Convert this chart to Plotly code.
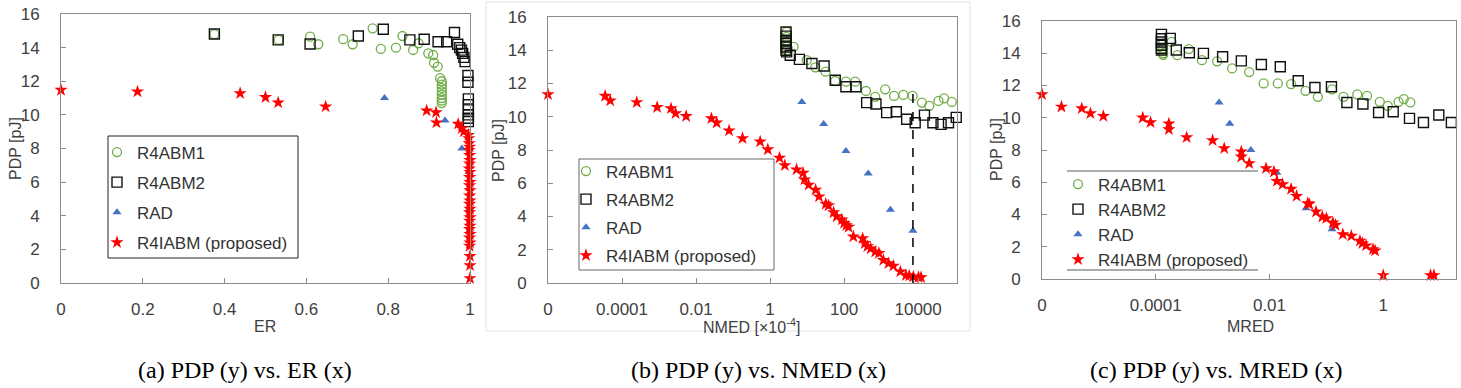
import plotly.graph_objects as go

# ---------------- data ----------------
# (a) PDP vs ER
a_r4abm1_er = [0.375, 0.532, 0.609, 0.629, 0.69, 0.713, 0.762, 0.782, 0.819, 0.835, 0.861, 0.874,
               0.898, 0.91, 0.912, 0.921, 0.927, 0.931, 0.931, 0.931, 0.931, 0.931, 0.931, 0.931, 0.931]
a_r4abm1_pdp = [14.8, 14.46, 14.65, 14.2, 14.5, 14.2, 15.15, 13.92, 14.0, 14.69, 13.86, 14.26,
                13.66, 13.56, 13.1, 12.87, 12.18, 12.0, 11.8, 11.6, 11.4, 11.2, 11.0, 10.85, 10.7]
a_r4abm2_er = [0.375, 0.531, 0.609, 0.727, 0.788, 0.853, 0.888, 0.922, 0.943, 0.962, 0.97,
               0.975, 0.979, 0.982, 0.985, 0.988, 0.995, 0.995, 0.996, 0.996, 0.996, 0.996, 0.996, 0.996]
a_r4abm2_pdp = [14.81, 14.46, 14.22, 14.69, 15.09, 14.46, 14.5, 14.35, 14.35, 14.9, 14.2,
                14.0, 13.85, 13.66, 13.42, 13.17, 12.34, 11.94, 10.95, 10.6, 10.3, 10.0, 9.8, 9.6]
a_rad_er = [0.791, 0.939, 0.98, 0.998, 0.999, 0.999]
a_rad_pdp = [11.0, 9.66, 8.0, 6.6, 4.4, 3.1]
a_r4iabm_er = [0.0, 0.187, 0.438, 0.5, 0.531, 0.647, 0.894, 0.917, 0.918, 0.971, 0.98, 0.985,
               0.996, 0.997, 0.998, 0.999, 0.998, 0.999, 1.0, 0.999, 0.998, 1.0, 0.999, 1.0,
               0.999, 1.0, 0.999, 1.0, 0.999, 1.0, 0.999, 1.0, 0.999, 1.0, 0.999, 1.0,
               0.999, 1.0, 0.999, 1.0, 1.0, 1.0]
a_r4iabm_pdp = [11.48, 11.38, 11.28, 11.05, 10.73, 10.49, 10.25, 10.15, 9.54, 9.46, 9.2, 9.0,
                8.8, 8.6, 8.3, 8.1, 7.9, 7.6, 7.3, 7.1, 6.8, 6.6, 6.3, 6.0, 5.8, 5.5, 5.2, 4.9,
                4.7, 4.4, 4.2, 3.9, 3.7, 3.4, 3.2, 2.9, 2.7, 2.4, 2.2, 1.6, 1.05, 0.28]

# (b) PDP vs NMED [x10^-4]
b_r4abm1_nmed = [2.8, 2.8, 2.8, 2.8, 2.8, 4.3, 9.8, 16.6, 31.6, 57.5, 112, 200, 389, 692, 1290,
                 2240, 3980, 7080, 12600, 20000, 35500, 50100, 81300]
b_r4abm1_pdp = [15.1, 14.8, 14.5, 14.2, 14.0, 14.2, 13.4, 12.97, 12.71, 12.15, 12.11, 12.11, 11.55,
                11.2, 11.65, 11.25, 11.31, 11.25, 10.85, 10.66, 10.95, 11.1, 10.89]
b_r4abm2_nmed = [2.7, 2.7, 2.7, 2.7, 2.7, 2.7, 2.8, 3.5, 6.2, 13.5, 28.8, 57.5, 112, 209, 407, 724,
                 1410, 2570, 4900, 8320, 14800, 25100, 41700, 66100, 107000]
b_r4abm2_pdp = [15.1, 14.85, 14.6, 14.4, 14.2, 14.0, 13.9, 13.7, 13.45, 13.2, 13.05, 12.2, 11.8,
                11.8, 10.85, 10.77, 10.25, 10.3, 9.85, 9.64, 10.1, 9.64, 9.54, 9.64, 9.96]
b_rad_nmed = [7.2, 28, 112, 447, 1780, 7240]
b_rad_pdp = [10.89, 9.56, 7.94, 6.58, 4.41, 3.15]
b_r4iabm_nmed = [0, 3.5e-5, 4.8e-5, 2.5e-4, 8.9e-4, 2.1e-3, 2.8e-3, 5.4e-3, 0.026, 0.036, 0.078,
                 0.18, 0.54, 0.87, 1.8, 2.5, 5.2, 7.8, 8.5, 11, 17, 21, 32, 38, 52, 63, 87, 100,
                 115, 132, 178, 316, 363, 427, 525, 692, 871, 1150, 1580, 2140, 3310, 4680,
                 5750, 7410, 10200, 12000]
b_r4iabm_pdp = [11.35, 11.25, 10.97, 10.87, 10.57, 10.5, 10.2, 10.03, 9.9, 9.64, 9.17, 8.7, 8.5,
                8.03, 7.53, 7.08, 6.82, 6.62, 6.22, 5.9, 5.6, 5.2, 4.75, 4.66, 4.24, 4.0, 3.81,
                3.6, 3.47, 3.37, 2.79, 2.68, 2.39, 2.2, 2.07, 1.87, 1.8, 1.38, 1.18, 1.03, 0.68,
                0.46, 0.44, 0.38, 0.34, 0.34]
b_marker_nmed = 7240     # dashed guide line position
b_marker_pdp_top = 11.4

# (c) PDP vs MRED
c_r4abm1_mred = [1.35e-4, 1.35e-4, 1.35e-4, 1.35e-4, 1.9e-4, 2.4e-4, 3.8e-4, 6.5e-4, 1.2e-3,
                 2.2e-3, 4.4e-3, 7.9e-3, 0.014, 0.024, 0.043, 0.071, 0.126, 0.2, 0.35, 0.52,
                 0.87, 1.2, 1.86, 2.3, 3.0]
c_r4abm1_pdp = [14.6, 14.3, 14.0, 13.9, 14.7, 13.88, 14.26, 13.57, 13.5, 13.06, 12.83, 12.13,
                12.13, 12.09, 11.67, 11.3, 11.76, 11.3, 11.45, 11.36, 10.99, 10.74, 10.99, 11.16,
                10.95]
c_r4abm2_mred = [1.26e-4, 1.26e-4, 1.26e-4, 1.26e-4, 1.26e-4, 1.26e-4, 1.8e-4, 2.3e-4, 3.9e-4,
                 6.9e-4, 1.5e-3, 3.2e-3, 7.2e-3, 0.0155, 0.032, 0.063, 0.123, 0.23, 0.44, 0.83,
                 1.5, 2.9, 5.1, 9.5, 15.8]
c_r4abm2_pdp = [15.17, 14.9, 14.7, 14.5, 14.3, 14.2, 14.92, 14.2, 14.03, 13.99, 13.78, 13.53,
                13.3, 13.16, 12.29, 11.88, 11.92, 10.95, 10.85, 10.33, 10.37, 9.96, 9.71, 10.17,
                9.71]
c_rad_mred = [1.3e-3, 2.0e-3, 4.7e-3, 0.0135, 0.044, 0.126]
c_rad_pdp = [10.95, 9.63, 8.0, 6.59, 4.38, 3.08]
c_r4iabm_mred = [0, 2.2e-6, 5.0e-6, 7.1e-6, 1.2e-5, 5.9e-5, 8.1e-5, 1.7e-4, 1.7e-4, 3.5e-4,
                 1.0e-3, 1.6e-3, 3.2e-3, 3.2e-3, 4.4e-3, 8.7e-3, 0.012, 0.0135, 0.017, 0.024,
                 0.030, 0.047, 0.050, 0.066, 0.085, 0.10, 0.13, 0.145, 0.195, 0.275, 0.39, 0.43,
                 0.50, 0.66, 0.72, 1.0, 6.8, 7.8]
c_r4iabm_pdp = [11.45, 10.68, 10.58, 10.27, 10.1, 10.0, 9.71, 9.63, 9.28, 8.78, 8.6, 8.1, 7.9,
                7.58, 7.17, 6.86, 6.65, 6.07, 5.87, 5.58, 5.14, 4.69, 4.65, 4.17, 3.86, 3.76,
                3.49, 3.35, 2.77, 2.67, 2.36, 2.21, 2.07, 1.84, 1.76, 0.23, 0.23, 0.23]

series_names = ["R4ABM1", "R4ABM2", "RAD", "R4IABM (proposed)"]
b_tickvals = [1e-6, 1e-4, 1e-2, 1, 100, 10000]
b_ticktext = ["0", "0.0001", "0.01", "1", "100", "10000"]
c_tickvals = [1e-6, 1e-4, 1e-2, 1]
c_ticktext = ["0", "0.0001", "0.01", "1"]
ZERO_POS = 1e-6  # where the value 0 sits on the log axes

# ---------------- styling ----------------
W, H = 1461, 388
def px(x):
    return x / W
def py(y):
    return 1 - y / H

marker_styles = {
    "R4ABM1": dict(symbol="circle-open", color="#70AD47", size=9, line=dict(width=1.3, color="#70AD47")),
    "R4ABM2": dict(symbol="square-open", color="#111111", size=10, line=dict(width=1.4, color="#111111")),
    "RAD": dict(symbol="triangle-up", color="#4472C4", size=8, line=dict(width=0)),
    "R4IABM (proposed)": dict(symbol="star", color="#FF0000", size=10, line=dict(width=0)),
}

def on_log(vals):
    return [v if v > 0 else ZERO_POS for v in vals]

fig = go.Figure()

panels = [
    ("x", "y", "legend", False,
     [(a_r4abm1_er, a_r4abm1_pdp), (a_r4abm2_er, a_r4abm2_pdp), (a_rad_er, a_rad_pdp), (a_r4iabm_er, a_r4iabm_pdp)]),
    ("x2", "y2", "legend2", True,
     [(b_r4abm1_nmed, b_r4abm1_pdp), (b_r4abm2_nmed, b_r4abm2_pdp), (b_rad_nmed, b_rad_pdp), (b_r4iabm_nmed, b_r4iabm_pdp)]),
    ("x3", "y3", "legend3", True,
     [(c_r4abm1_mred, c_r4abm1_pdp), (c_r4abm2_mred, c_r4abm2_pdp), (c_rad_mred, c_rad_pdp), (c_r4iabm_mred, c_r4iabm_pdp)]),
]

for pi, (xa, ya, lg, is_log, series) in enumerate(panels):
    for name, (xs, ys) in zip(series_names, series):
        fig.add_trace(go.Scatter(
            x=on_log(xs) if is_log else xs, y=ys, mode="markers", name=name,
            marker=marker_styles[name], xaxis=xa, yaxis=ya, legend=lg,
            legendgroup=f"p{pi}_{name}", cliponaxis=False, showlegend=True))

TICKFONT = dict(family="Liberation Sans, Arial, sans-serif", size=17, color="#404040")
AXCOL = "#8c8c8c"
common_x = dict(showline=True, linecolor=AXCOL, linewidth=1, mirror=True, showgrid=False,
                zeroline=False, ticks="inside", ticklen=5, tickcolor=AXCOL, tickfont=TICKFONT,
                ticklabelstandoff=11, automargin=False)
common_y = dict(showline=True, linecolor=AXCOL, linewidth=1, mirror=True, showgrid=False,
                zeroline=False, ticks="inside", ticklen=5, tickcolor=AXCOL, tickfont=TICKFONT,
                range=[0, 16], dtick=2, tick0=0, ticklabelstandoff=17, automargin=False)

leg_font = dict(family="Liberation Sans, Arial, sans-serif", size=17, color="#333333")
leg_common = dict(xanchor="left", yanchor="top", borderwidth=0, bgcolor="rgba(0,0,0,0)",
                  font=leg_font, traceorder="grouped")

fig.update_layout(
    template="none",
    width=W, height=H, margin=dict(l=0, r=0, t=0, b=0, autoexpand=False),
    paper_bgcolor="white", plot_bgcolor="white",
    xaxis=dict(domain=[px(61), px(470)], anchor="y", range=[0, 1], dtick=0.2, tick0=0, **common_x),
    yaxis=dict(domain=[py(283), py(14)], anchor="x", **common_y),
    xaxis2=dict(domain=[px(548), px(957)], anchor="y2", type="log", range=[-6, 5.05],
                tickmode="array", tickvals=b_tickvals, ticktext=b_ticktext, **common_x),
    yaxis2=dict(domain=[py(283), py(17)], anchor="x2", **common_y),
    xaxis3=dict(domain=[px(1042), px(1456)], anchor="y3", type="log", range=[-6, 1.28],
                tickmode="array", tickvals=c_tickvals, ticktext=c_ticktext, **common_x),
    yaxis3=dict(domain=[py(279), py(21)], anchor="x3", **common_y),
    legend=dict(x=px(97), y=py(134.5), tracegroupgap=5, **leg_common),
    legend2=dict(x=px(566), y=py(153.5), tracegroupgap=3, **leg_common),
    legend3=dict(x=px(1058), y=py(166.5), tracegroupgap=0, **leg_common),
    showlegend=True,
)

# faint frame of the middle sub-figure
fig.add_shape(type="rect", xref="paper", yref="paper", x0=px(486), x1=px(970), y0=py(331), y1=py(2),
              line=dict(color="#e3e3e3", width=1), fillcolor="rgba(0,0,0,0)", layer="below")
# dashed guide line in (b)
fig.add_shape(type="line", xref="x2", yref="y2", x0=b_marker_nmed, x1=b_marker_nmed,
              y0=0, y1=b_marker_pdp_top, line=dict(color="black", width=1.5, dash="dash"))
# legend frames
fig.add_shape(type="rect", xref="paper", yref="paper", x0=px(108), x1=px(298), y0=py(258), y1=py(136),
              line=dict(color="#222222", width=1), fillcolor="rgba(0,0,0,0)", layer="above")
fig.add_shape(type="rect", xref="paper", yref="paper", x0=px(579), x1=px(774), y0=py(270), y1=py(159),
              line=dict(color="#666666", width=1), fillcolor="rgba(0,0,0,0)", layer="above")
for yy in (171, 270):
    fig.add_shape(type="line", xref="paper", yref="paper", x0=px(1067), x1=px(1258),
                  y0=py(yy), y1=py(yy), line=dict(color="#595959", width=1))

# axis titles
AXTITLE = dict(family="Liberation Sans, Arial, sans-serif", size=16, color="#404040")
for (xx, yy, txt, ang) in [(15, 149, "PDP [pJ]", -90), (499, 151, "PDP [pJ]", -90), (997, 150, "PDP [pJ]", -90),
                           (265, 326, "ER", 0), (752, 326, "NMED [×10<sup>-4</sup>]", 0), (1250, 326, "MRED", 0)]:
    fig.add_annotation(x=px(xx), y=py(yy), xref="paper", yref="paper", text=txt, textangle=ang,
                       showarrow=False, font=AXTITLE, xanchor="center", yanchor="middle")

# captions
CAP = dict(family="Liberation Serif, Times New Roman, serif", size=24, color="black")
for (xx, txt) in [(245, "(a) PDP (y) vs. ER (x)"), (758, "(b) PDP (y) vs. NMED (x)"), (1216, "(c) PDP (y) vs. MRED (x)")]:
    fig.add_annotation(x=px(xx), y=py(370), xref="paper", yref="paper", text=txt, showarrow=False,
                       font=CAP, xanchor="center", yanchor="middle")

fig.write_html("out.html", config={"displayModeBar": False},
               post_script="document.body.style.margin='0px';")
